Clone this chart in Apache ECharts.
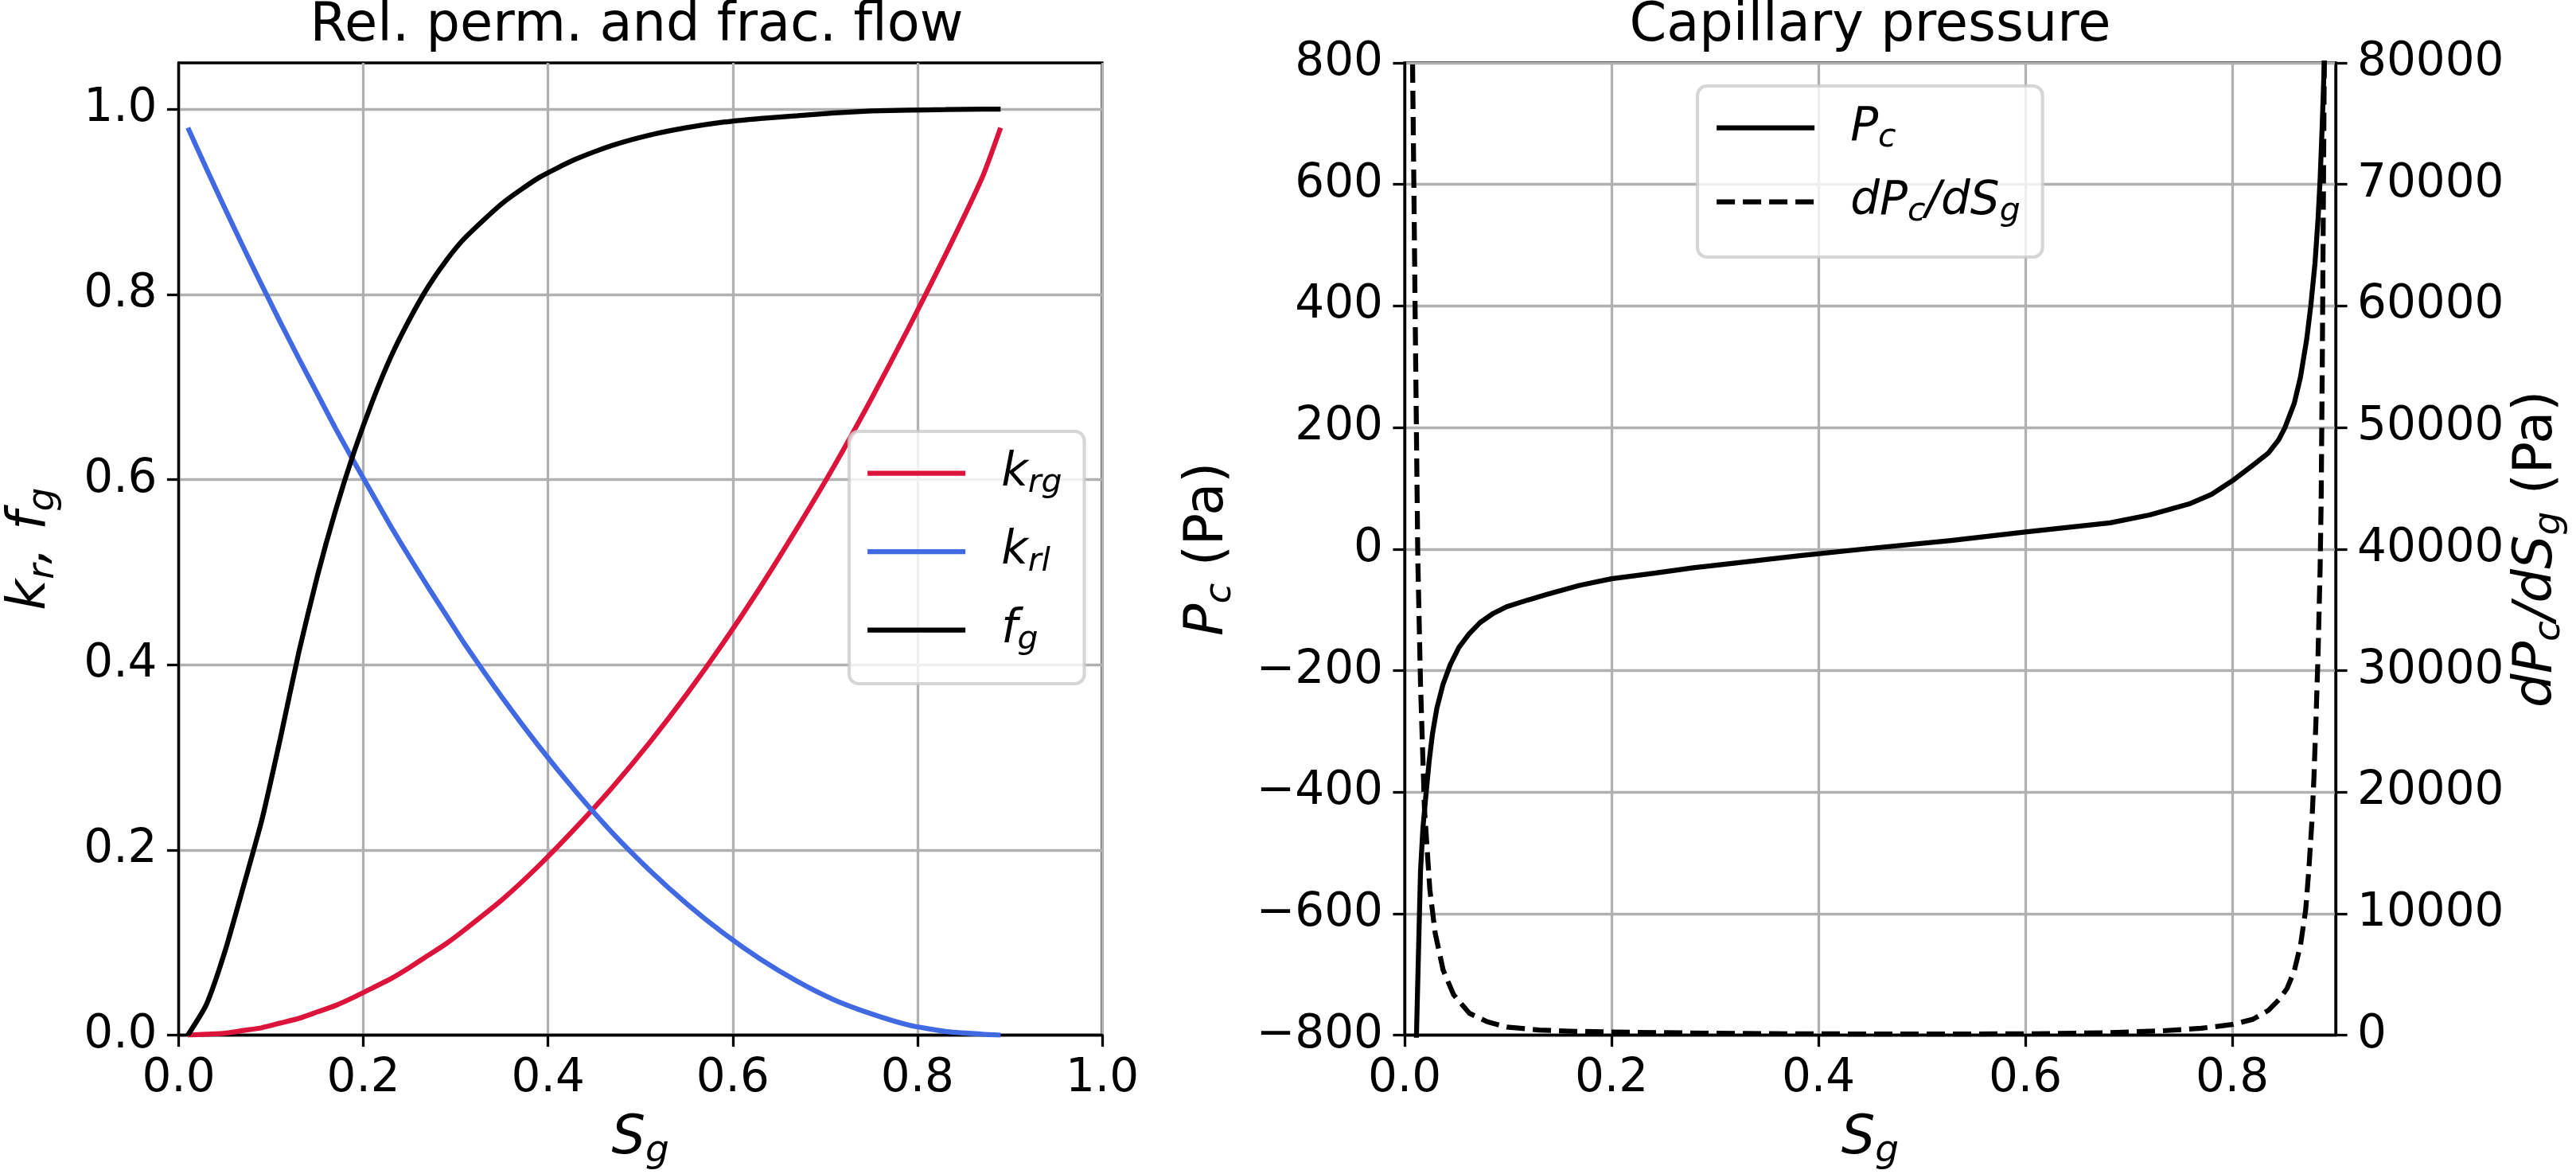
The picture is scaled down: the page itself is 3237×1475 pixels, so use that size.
<!DOCTYPE html>
<html><head><meta charset="utf-8">
<script src="https://cdn.jsdelivr.net/npm/echarts/dist/echarts.min.js"></script>
<style>html,body{margin:0;padding:0;background:#fff}#c{width:3237px;height:1475px}</style>
</head><body><div id="c"></div>
<script>
// ---------- data ----------
const sgRel = [0.01,0.03,0.05,0.07,0.09,0.11,0.13,0.15,0.17,0.19,0.21,0.23,0.25,0.27,0.29,0.31,0.35,0.39,0.43,0.47,0.51,0.55,0.59,0.63,0.67,0.71,0.75,0.79,0.83,0.87,0.89];
const krg = [0.000,0.001,0.002,0.005,0.008,0.013,0.018,0.025,0.032,0.041,0.051,0.061,0.073,0.086,0.099,0.114,0.146,0.183,0.224,0.268,0.316,0.368,0.424,0.484,0.548,0.615,0.687,0.763,0.842,0.926,0.980];
const krl = [0.980,0.936,0.893,0.851,0.810,0.770,0.731,0.693,0.655,0.619,0.584,0.549,0.516,0.484,0.453,0.422,0.365,0.312,0.263,0.218,0.178,0.142,0.110,0.082,0.058,0.038,0.023,0.011,0.004,0.001,0.000];
const fg  = [0.000,0.033,0.090,0.160,0.232,0.320,0.413,0.495,0.567,0.630,0.685,0.733,0.773,0.808,0.837,0.861,0.898,0.926,0.946,0.961,0.972,0.980,0.986,0.990,0.993,0.996,0.998,0.999,0.9995,1.000,1.000];

const sgPc = [0.0100,0.0115,0.0132,0.0154,0.0177,0.0205,0.0237,0.0269,0.0312,0.0371,0.0442,0.0525,0.0622,0.073,0.0857,0.0987,0.119,0.137,0.169,0.2,0.24,0.279,0.33,0.382,0.45,0.528,0.6,0.682,0.72,0.758,0.78,0.8,0.82,0.835,0.845,0.851,0.86,0.866,0.872,0.876,0.88,0.883,0.885,0.887,0.889,0.8905];
const pc = [-900,-800,-680,-530,-460,-407,-350,-305,-262,-223,-190,-162,-140,-121,-106,-95,-84,-75,-60,-49,-40,-31,-21,-11,1,14,28,43,56,74,90,112,138,158,180,200,240,283,345,401,470,544,610,697,800,900];

const sgDpc = [0.0070,0.0077,0.0090,0.0102,0.0115,0.0128,0.0154,0.0192,0.0244,0.0295,0.0372,0.0474,0.0628,0.08,0.0987,0.13,0.16,0.2,0.3,0.382,0.5,0.6,0.68,0.733,0.77,0.8,0.82,0.835,0.845,0.853,0.86,0.866,0.871,0.874,0.877,0.879,0.881,0.883,0.885,0.886,0.887,0.888,0.889,0.8895];
const dpc = [95000,80000,69750,59500,49300,39100,28900,18650,12000,8430,5370,3320,1790,1100,660,420,320,255,150,100,95,100,200,360,560,870,1300,2040,2900,3830,5300,7400,10300,13540,17500,21200,26000,31400,38500,44200,54400,67200,80000,88000];

const xTicksRel = [0,0.2,0.4,0.6,0.8,1.0];
const yTicksRel = [0,0.2,0.4,0.6,0.8,1.0];
const xTicksCap = [0,0.2,0.4,0.6,0.8];

const legendNames = {
  krg: '{m|k}{s|rg}',
  krl: '{m|k}{s|rl}',
  fg: '{m|f}{s|g}',
  Pc: '{m|P}{s|c}',
  dPc: '{m|dP}{s|c}{m|/dS}{s|g}'
};

// ---------- styling ----------
const FONT = 'DejaVu Sans';
const LW = 6.25;
const SPINE = 3.3;
function richSet(fs, sfs, drop, lh) {
  return {
    m: {fontSize: fs, fontStyle: 'italic', fontFamily: FONT, color: '#000', lineHeight: lh},
    s: {fontSize: sfs, fontStyle: 'italic', fontFamily: FONT, color: '#000', lineHeight: lh, padding: [drop * 2, 0, 0, 0]},
    n: {fontSize: fs, fontFamily: FONT, color: '#000', lineHeight: lh}
  };
}
const minus = v => String(v).replace('-', '\u2212');
const pairs = (xs, ys) => xs.map((x, i) => [x, ys[i]]);

function valAxis(extra) {
  return Object.assign({
    type: 'value',
    axisLine: {show: true, onZero: false, lineStyle: {color: '#000', width: SPINE}},
    axisTick: {show: true, inside: false, length: 14.6, lineStyle: {color: '#000', width: SPINE}},
    axisLabel: {fontSize: 58, fontFamily: FONT, color: '#000', margin: 27},
    splitLine: {show: true, lineStyle: {color: '#b0b0b0', width: 3.3}},
    nameLocation: 'middle',
    nameTextStyle: {fontSize: 67, fontFamily: FONT, color: '#000', rich: richSet(67, 47, 15, 70)}
  }, extra);
}

const legendCommon = {
  orient: 'vertical',
  itemWidth: 123,
  itemHeight: 20,
  selectedMode: false,
  backgroundColor: 'rgba(255,255,255,0.8)',
  borderColor: 'rgba(204,204,204,0.8)',
  borderWidth: 4.2,
  borderRadius: 12,
  itemStyle: {opacity: 0},
  lineStyle: {width: LW},
  formatter: name => legendNames[name],
  textStyle: {fontSize: 58, fontFamily: FONT, color: '#000', padding: [0, 0, 0, 40], rich: richSet(58, 41, 13, 60)}
};

const lineBase = {type: 'line', symbol: 'none', silent: true, smooth: 0.2};
const lineSharp = {type: 'line', symbol: 'none', silent: true, smooth: false};

const option = {
  animation: false,
  backgroundColor: '#fff',
  title: [
    {text: 'Rel. perm. and frac. flow', left: 800, top: 0, textAlign: 'center', padding: 0,
     textStyle: {fontSize: 67, fontWeight: 'normal', fontFamily: FONT, color: '#000'}},
    {text: 'Capillary pressure', left: 2350, top: 0, textAlign: 'center', padding: 0,
     textStyle: {fontSize: 67, fontWeight: 'normal', fontFamily: FONT, color: '#000'}}
  ],
  grid: [
    {left: 215, top: 79, width: 1170, height: 1222, show: true, borderColor: '#000', borderWidth: SPINE, containLabel: false},
    {left: 1765, top: 79, width: 1170, height: 1222, show: true, borderColor: '#000', borderWidth: SPINE, containLabel: false}
  ],
  xAxis: [
    valAxis({gridIndex: 0, min: 0, max: 1, interval: 0.2,
      axisTick: {show: true, inside: false, length: 14.6, lineStyle: {color: '#000', width: SPINE}, customValues: xTicksRel},
      axisLabel: {fontSize: 58, fontFamily: FONT, color: '#000', margin: 26, customValues: xTicksRel, formatter: v => v.toFixed(1)},
      name: '{m|S}{s|g}', nameGap: 96}),
    valAxis({gridIndex: 1, min: 0, max: 0.9, interval: 0.2,
      axisTick: {show: true, inside: false, length: 14.6, lineStyle: {color: '#000', width: SPINE}, customValues: xTicksCap},
      axisLabel: {fontSize: 58, fontFamily: FONT, color: '#000', margin: 26, customValues: xTicksCap, formatter: v => v.toFixed(1)},
      name: '{m|S}{s|g}', nameGap: 96})
  ],
  yAxis: [
    valAxis({gridIndex: 0, min: 0, max: 1.05, interval: 0.2, position: 'left',
      axisTick: {show: true, inside: false, length: 14.6, lineStyle: {color: '#000', width: SPINE}, customValues: yTicksRel},
      axisLabel: {fontSize: 58, fontFamily: FONT, color: '#000', margin: 27, customValues: yTicksRel, formatter: v => v.toFixed(1)},
      name: '{m|k}{s|r}{m|, f}{s|g}', nameRotate: 90, nameGap: 150}),
    valAxis({gridIndex: 1, min: -800, max: 800, interval: 200, position: 'left',
      axisLabel: {fontSize: 58, fontFamily: FONT, color: '#000', margin: 27, formatter: v => minus(v)},
      name: '{m|P}{s|c}{n| (Pa)}', nameRotate: 90, nameGap: 211}),
    valAxis({gridIndex: 1, min: 0, max: 80000, interval: 10000, position: 'right',
      splitLine: {show: false},
      axisLabel: {fontSize: 58, fontFamily: FONT, color: '#000', margin: 27, formatter: v => String(v)},
      name: '{m|dP}{s|c}{m|/dS}{s|g}{n| (Pa)}', nameRotate: 90, nameGap: 180})
  ],
  legend: [
    Object.assign({}, legendCommon, {data: ['krg', 'krl', 'fg'], left: 1067, top: 542, itemGap: 31.5, padding: [19, 28, 34, 20]}),
    Object.assign({}, legendCommon, {data: ['Pc', 'dPc'], left: 2133, top: 108, itemGap: 26, padding: [19, 28, 36, 21]})
  ],
  series: [
    Object.assign({}, lineBase, {name: 'krg', xAxisIndex: 0, yAxisIndex: 0, data: pairs(sgRel, krg),
     lineStyle: {color: '#dc143c', width: LW}, itemStyle: {color: '#dc143c'}}),
    Object.assign({}, lineBase, {name: 'krl', xAxisIndex: 0, yAxisIndex: 0, data: pairs(sgRel, krl),
     lineStyle: {color: '#4169e1', width: LW}, itemStyle: {color: '#4169e1'}}),
    Object.assign({}, lineBase, {name: 'fg', xAxisIndex: 0, yAxisIndex: 0, data: pairs(sgRel, fg),
     lineStyle: {color: '#000', width: LW}, itemStyle: {color: '#000'}}),
    Object.assign({}, lineSharp, {name: 'Pc', xAxisIndex: 1, yAxisIndex: 1, data: pairs(sgPc, pc),
     lineStyle: {color: '#000', width: LW, join: 'round'}, itemStyle: {color: '#000'}}),
    Object.assign({}, lineSharp, {name: 'dPc', xAxisIndex: 1, yAxisIndex: 2, data: pairs(sgDpc, dpc),
     lineStyle: {color: '#000', width: LW, type: [23, 10], join: 'round'}, itemStyle: {color: '#000'}})
  ]
};

const chart = echarts.init(document.getElementById('c'), null, {renderer: 'canvas'});
chart.setOption(option);
</script></body></html>
